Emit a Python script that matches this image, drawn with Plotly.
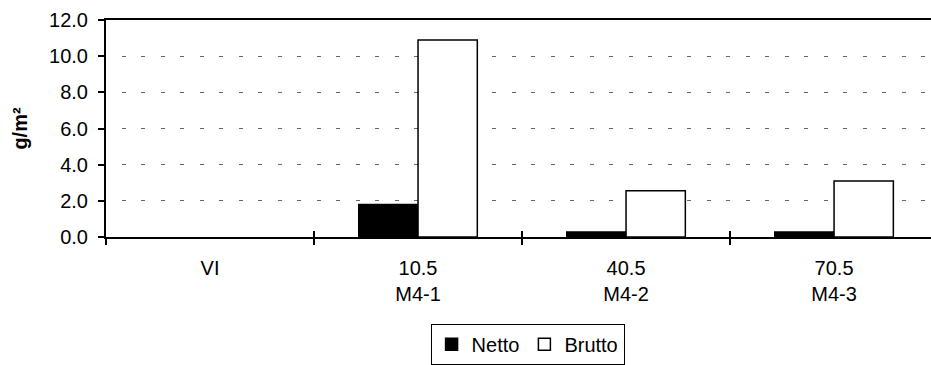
import plotly.graph_objects as go

# Sampling sites (period label + station) and biomass values in g/m²
categories = ["VI", "10.5<br>M4-1", "40.5<br>M4-2", "70.5<br>M4-3"]
netto = [None, 1.8, 0.28, 0.28]
brutto = [None, 10.9, 2.56, 3.1]
y_ticks = [0, 2, 4, 6, 8, 10, 12]

FONT = "Liberation Sans, Arial, sans-serif"
FS = 20
x_range = [-0.5, 3.466]

fig = go.Figure()
fig.add_trace(go.Bar(
    x=categories, y=netto, name="Netto",
    marker=dict(color="black", line=dict(color="black", width=1.5)),
))
fig.add_trace(go.Bar(
    x=categories, y=brutto, name="Brutto",
    marker=dict(color="white", line=dict(color="black", width=1.5)),
))
# helper trace so the overlay axis carries the same categories (inner tick halves)
fig.add_trace(go.Scatter(
    x=categories, y=[None] * len(categories), xaxis="x2",
    mode="markers", showlegend=False, hoverinfo="skip",
))

fig.update_layout(
    width=931, height=365,
    margin=dict(l=106, r=0, t=20, b=128),
    paper_bgcolor="white", plot_bgcolor="white",
    font=dict(family=FONT, size=FS, color="black"),
    barmode="group", bargap=0.43, bargroupgap=0,
    xaxis=dict(
        type="category", categoryarray=categories, range=x_range,
        tickson="boundaries", ticks="outside", ticklen=6, tickwidth=1.5,
        tickcolor="black", showline=True, linewidth=2, linecolor="black",
        mirror=True, showgrid=False, zeroline=False,
        tickfont=dict(size=FS), ticklabelstandoff=12,
    ),
    xaxis2=dict(
        type="category", categoryarray=categories, range=x_range,
        overlaying="x", anchor="y", side="bottom",
        tickson="boundaries", ticks="inside", ticklen=6, tickwidth=1.5,
        tickcolor="black", showticklabels=False, showline=False,
        showgrid=False, zeroline=False,
    ),
    yaxis=dict(
        range=[0, 12], tickvals=y_ticks, tickformat=".1f",
        ticks="outside", ticklen=6, tickwidth=1.5, tickcolor="black",
        showline=True, linewidth=2, linecolor="black",
        showgrid=True, gridcolor="#666666", gridwidth=1,
        griddash="0px,15.5px,4px,0px", zeroline=False,
        tickfont=dict(size=FS), ticklabelstandoff=6,
        title=dict(text="<b>g/m²</b>", font=dict(size=FS), standoff=16),
    ),
    legend=dict(
        orientation="h", x=0.511, xanchor="center", y=-0.40, yanchor="top",
        bordercolor="black", borderwidth=1, bgcolor="white",
        font=dict(size=FS), itemwidth=30, traceorder="normal",
        tracegroupgap=0,
    ),
    showlegend=True,
)

fig.write_html("out.html")
